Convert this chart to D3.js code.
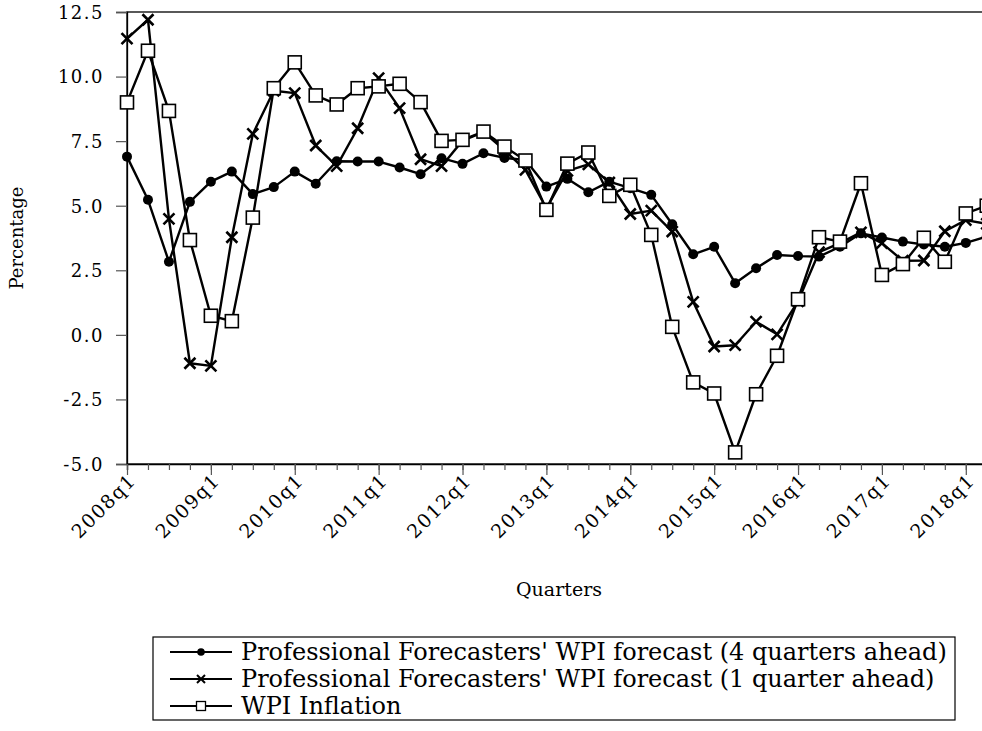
<!DOCTYPE html>
<html>
<head>
<meta charset="utf-8">
<script src="https://cdn.jsdelivr.net/npm/d3@7"></script>
<style>
  html, body { margin: 0; padding: 0; background: #fff; }
  svg { display: block; }
  text { font-family: "DejaVu Serif", "Liberation Serif", serif; fill: #000; }
</style>
</head>
<body>
<svg id="chart" width="982" height="731"></svg>
<script>
const quarters = [
  "2008q1","2008q2","2008q3","2008q4","2009q1","2009q2","2009q3","2009q4",
  "2010q1","2010q2","2010q3","2010q4","2011q1","2011q2","2011q3","2011q4",
  "2012q1","2012q2","2012q3","2012q4","2013q1","2013q2","2013q3","2013q4",
  "2014q1","2014q2","2014q3","2014q4","2015q1","2015q2","2015q3","2015q4",
  "2016q1","2016q2","2016q3","2016q4","2017q1","2017q2","2017q3","2017q4",
  "2018q1","2018q2"
];
const forecast4Q = [
  6.90, 5.23, 2.83, 5.15, 5.93, 6.32, 5.45, 5.72, 6.32, 5.85,
  6.72, 6.71, 6.71, 6.48, 6.22, 6.84, 6.62, 7.03, 6.85, 6.77,
  5.74, 6.04, 5.52, 5.93, 5.68, 5.42, 4.28, 3.12, 3.41, 2.00,
  2.58, 3.09, 3.05, 3.03, 3.41, 3.93, 3.77, 3.61, 3.50, 3.41,
  3.56, 3.80
];
const forecast1Q = [
  11.47, 12.20, 4.49, -1.10, -1.20, 3.78, 7.78, 9.45, 9.36, 7.33,
  6.53, 8.00, 9.94, 8.78, 6.80, 6.53, 7.52, 7.85, 7.15, 6.39,
  4.90, 6.35, 6.60, 5.90, 4.68, 4.81, 4.00, 1.28, -0.45, -0.40,
  0.51, 0.02, 1.30, 3.20, 3.55, 3.97, 3.55, 2.87, 2.88, 4.01,
  4.44, 4.30
];
const wpiInflation = [
  9.00, 11.00, 8.67, 3.67, 0.74, 0.53, 4.54, 9.55, 10.55, 9.27,
  8.92, 9.55, 9.62, 9.72, 9.01, 7.51, 7.55, 7.87, 7.29, 6.75,
  4.84, 6.63, 7.06, 5.38, 5.81, 3.87, 0.31, -1.84, -2.27, -4.55,
  -2.30, -0.81, 1.38, 3.78, 3.61, 5.87, 2.32, 2.74, 3.76, 2.83,
  4.70, 5.00
];
const yTicks = [-5.0, -2.5, 0.0, 2.5, 5.0, 7.5, 10.0, 12.5];
const seriesNames = [
  "Professional Forecasters' WPI forecast (4 quarters ahead)",
  "Professional Forecasters' WPI forecast (1 quarter ahead)",
  "WPI Inflation"
];

(function () {
const svg = d3.select("#chart");
const pLeft = 127, pTop = 12, pBottom = 464;
const step = 20.97;
const pRight = pLeft + step * (quarters.length - 1);

const x = d3.scaleLinear().domain([0, quarters.length - 1]).range([pLeft, pRight]);
const y = d3.scaleLinear().domain([-5, 12.5]).range([pBottom, pTop]);

// frame
svg.append("rect").attr("x", pLeft).attr("y", pTop)
  .attr("width", pRight - pLeft).attr("height", pBottom - pTop)
  .attr("fill", "none").attr("stroke", "#000").attr("stroke-width", 1.3);

// y axis
const fmt = d3.format(".1f");
const yAxis = d3.axisLeft(y).tickValues(yTicks).tickSize(11).tickPadding(12)
  .tickFormat(d => fmt(d).replace("\u2212", "-"));
const gy = svg.append("g").attr("transform", `translate(${pLeft},0)`).call(yAxis);
gy.select(".domain").attr("stroke", "#000").attr("stroke-width", 1.3);
gy.selectAll(".tick line").attr("stroke", "#555").attr("stroke-width", 1.2);
gy.selectAll(".tick text").attr("font-family", "DejaVu Serif").attr("font-size", 18)
  .attr("letter-spacing", "1.5px").attr("dy", "0.35em");

// x axis minor ticks (every quarter)
const idx = d3.range(quarters.length);
const gxMinor = svg.append("g").attr("transform", `translate(0,${pBottom})`)
  .call(d3.axisBottom(x).tickValues(idx).tickSize(6).tickFormat(""));
gxMinor.select(".domain").attr("stroke", "#000").attr("stroke-width", 1.3);
gxMinor.selectAll(".tick line").attr("stroke", "#555").attr("stroke-width", 1.2);

// x axis major ticks (q1)
const majors = idx.filter(i => quarters[i].endsWith("q1"));
const gx = svg.append("g").attr("transform", `translate(0,${pBottom})`)
  .call(d3.axisBottom(x).tickValues(majors).tickSize(11).tickFormat(i => quarters[i]));
gx.select(".domain").remove();
gx.selectAll(".tick line").attr("stroke", "#555").attr("stroke-width", 1.2);
gx.selectAll(".tick text")
  .attr("font-family", "DejaVu Serif").attr("font-size", 19).attr("letter-spacing", "1.5px")
  .attr("text-anchor", "end")
  .attr("transform", "translate(5,13) rotate(-45)")
  .attr("y", 0).attr("dy", "0.35em");

// axis titles
svg.append("text").attr("x", 559).attr("y", 596).attr("text-anchor", "middle")
  .attr("font-size", 19).text("Quarters");
svg.append("text").attr("transform", "translate(23,238) rotate(-90)")
  .attr("text-anchor", "middle").attr("font-size", 18).text("Percentage");

const plot = svg.append("g");
const line = d3.line().x((d, i) => x(i)).y(d => y(d));
const allSeries = [forecast4Q, forecast1Q, wpiInflation];
allSeries.forEach(s => {
  plot.append("path").datum(s).attr("d", line)
    .attr("fill", "none").attr("stroke", "#000").attr("stroke-width", 2.4)
    .attr("stroke-linejoin", "round");
});

function drawCircle(g, cx, cy, r) {
  g.append("circle").attr("cx", cx).attr("cy", cy).attr("r", r).attr("fill", "#000");
}
function drawCross(g, cx, cy, h, w) {
  g.append("path").attr("d", `M${cx-h},${cy-h}L${cx+h},${cy+h}M${cx-h},${cy+h}L${cx+h},${cy-h}`)
    .attr("stroke", "#000").attr("stroke-width", w).attr("fill", "none");
}
function drawSquare(g, cx, cy, h, w) {
  g.append("rect").attr("x", cx-h).attr("y", cy-h).attr("width", 2*h).attr("height", 2*h)
    .attr("fill", "#fff").attr("stroke", "#000").attr("stroke-width", w);
}

forecast4Q.forEach((v, i) => drawCircle(plot, x(i), y(v), 5));
forecast1Q.forEach((v, i) => drawCross(plot, x(i), y(v), 5.5, 2.6));
wpiInflation.forEach((v, i) => drawSquare(plot, x(i), y(v), 6.5, 1.6));

// legend
const lg = svg.append("g");
lg.append("rect").attr("x", 153).attr("y", 637).attr("width", 802).attr("height", 83)
  .attr("fill", "#fff").attr("stroke", "#000").attr("stroke-width", 1.2);
const rowsY = [652, 679, 706];
seriesNames.forEach((name, k) => {
  const ry = rowsY[k];
  lg.append("line").attr("x1", 170).attr("x2", 232).attr("y1", ry).attr("y2", ry)
    .attr("stroke", "#000").attr("stroke-width", 2);
  if (k === 0) drawCircle(lg, 201, ry, 3.8);
  if (k === 1) drawCross(lg, 201, ry, 4, 2);
  if (k === 2) drawSquare(lg, 201, ry, 4.5, 1.3);
  lg.append("text").attr("x", 241).attr("y", ry).attr("dy", "0.35em")
    .attr("font-size", 24).text(name);
});
})();
</script>
</body>
</html>
